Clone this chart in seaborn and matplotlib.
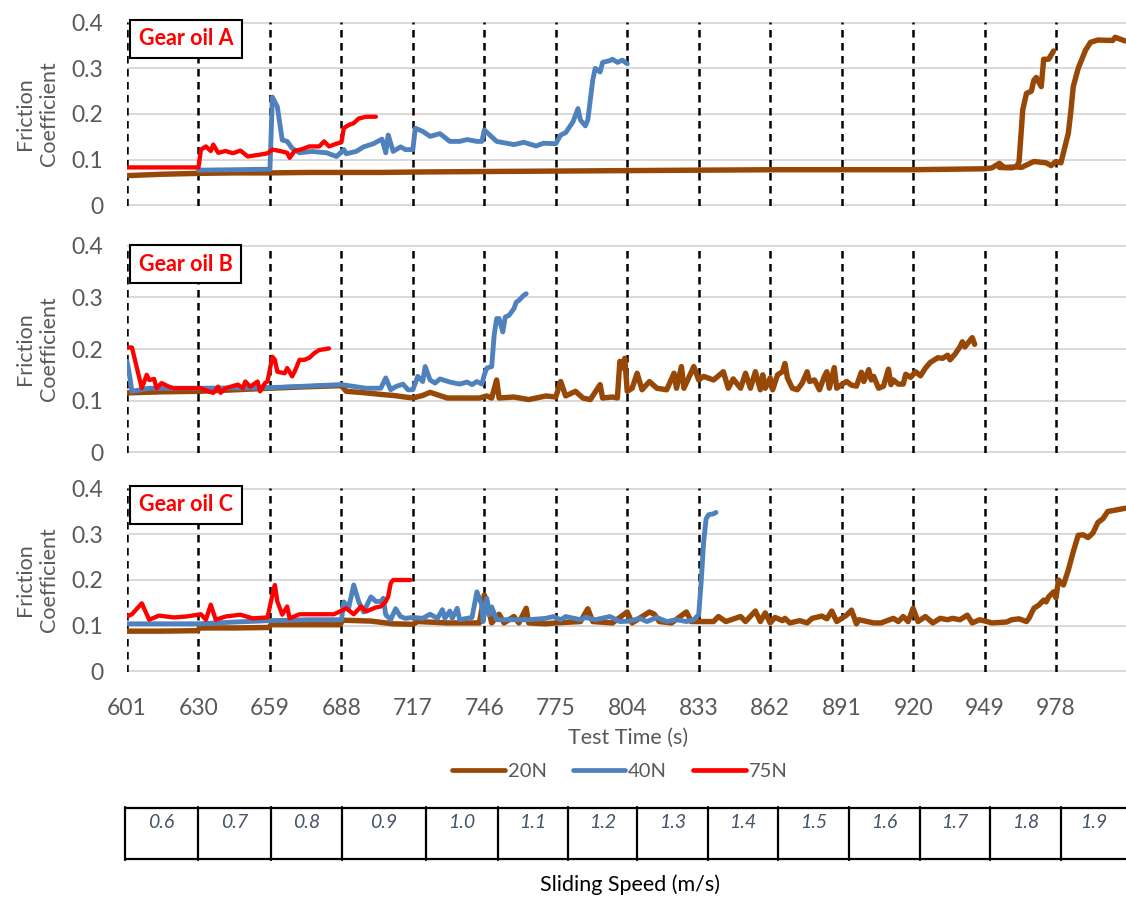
import matplotlib
matplotlib.use("Agg")
import matplotlib.pyplot as plt
from matplotlib.lines import Line2D
import seaborn as sns

# ---------------- data ----------------
tick_times = [601, 630, 659, 688, 717, 746, 775, 804, 833, 862, 891, 920, 949, 978]
tick_labels = [str(t) for t in tick_times]
y_ticks = [0, 0.1, 0.2, 0.3, 0.4]
y_tick_labels = ["0", "0.1", "0.2", "0.3", "0.4"]
loads = ["20N", "40N", "75N"]
oils = ["Gear oil A", "Gear oil B", "Gear oil C"]
speeds = [0.6, 0.7, 0.8, 0.9, 1.0, 1.1, 1.2, 1.3, 1.4, 1.5, 1.6, 1.7, 1.8, 1.9]

# Gear oil A
a20_t = [601, 615, 630, 645, 659, 675, 688, 704, 720, 746,
         775, 804, 833, 866, 891, 920, 949, 952, 955, 957,
         962, 964, 969, 974, 976, 978, 980, 981, 983, 984,
         985, 987, 990, 992, 995, 1001, 1002, 1006]
a20_v = [0.065, 0.068, 0.070, 0.071, 0.071, 0.072, 0.072, 0.072, 0.073, 0.074,
         0.075, 0.076, 0.077, 0.078, 0.078, 0.078, 0.080, 0.082, 0.092, 0.083,
         0.084, 0.083, 0.096, 0.093, 0.087, 0.096, 0.093, 0.115, 0.158, 0.205,
         0.260, 0.300, 0.340, 0.357, 0.362, 0.361, 0.368, 0.360]
a20b_t = [955, 960, 962, 963, 964.5, 966, 968, 969, 970, 972,
          973, 975, 977]
a20b_v = [0.083, 0.082, 0.085, 0.095, 0.209, 0.245, 0.250, 0.274, 0.280, 0.260,
          0.320, 0.320, 0.338]
a40_t = [630, 645, 659, 660, 662, 664, 666, 668, 671, 676,
         682, 686, 689, 690, 694, 697, 701, 704.5, 706, 707,
         709, 712, 714, 717, 718, 721, 724, 728, 732, 736,
         739, 743, 745, 746, 751, 758, 762, 767, 770, 775,
         777, 779, 782, 784, 785, 787, 788, 790, 791, 793,
         794, 797, 798, 800, 802, 804]
a40_v = [0.077, 0.078, 0.079, 0.237, 0.216, 0.143, 0.140, 0.125, 0.115, 0.118,
         0.115, 0.107, 0.122, 0.113, 0.118, 0.128, 0.135, 0.145, 0.115, 0.154,
         0.118, 0.128, 0.122, 0.122, 0.169, 0.162, 0.151, 0.157, 0.140, 0.140,
         0.144, 0.140, 0.140, 0.165, 0.140, 0.133, 0.138, 0.130, 0.136, 0.135,
         0.154, 0.159, 0.183, 0.212, 0.187, 0.174, 0.187, 0.274, 0.300, 0.292,
         0.313, 0.317, 0.320, 0.313, 0.318, 0.310]
a75_t = [601, 615, 630, 631, 633, 635, 636, 638, 641, 644,
         647, 650, 655, 658, 660, 663, 666, 667, 669, 672,
         675, 679, 681, 683, 686, 688, 689, 691, 693, 695,
         698, 702]
a75_v = [0.083, 0.083, 0.083, 0.122, 0.129, 0.119, 0.133, 0.115, 0.119, 0.114,
         0.120, 0.107, 0.111, 0.114, 0.122, 0.119, 0.115, 0.104, 0.119, 0.123,
         0.129, 0.129, 0.140, 0.129, 0.135, 0.138, 0.169, 0.176, 0.180, 0.190,
         0.194, 0.194]

# Gear oil B
b20_t = [601, 615, 630, 645, 659, 675, 688, 690, 698, 704,
         709, 717, 721, 724, 731, 744, 747, 749, 751, 752,
         758, 764, 771, 775, 777, 779, 783, 786, 789, 793,
         794, 798, 800, 801, 802, 803, 804, 806, 808, 810,
         813, 816, 820, 823, 824, 826, 827, 831, 833, 835,
         839, 843, 845, 847, 850, 852, 854, 856, 858, 859,
         860, 862, 863, 865, 867, 868, 869, 871, 873, 875,
         877, 878, 880, 882, 884, 885, 886, 888, 889, 891,
         893, 895, 897, 899, 900, 902, 903, 904, 906, 908,
         910, 911, 912, 914, 916, 917, 919, 921, 923, 925,
         927, 930, 932, 934, 935, 937, 939, 940, 941, 944,
         945]
b20_v = [0.115, 0.117, 0.118, 0.121, 0.124, 0.127, 0.129, 0.118, 0.115, 0.112,
         0.110, 0.105, 0.110, 0.116, 0.105, 0.105, 0.109, 0.105, 0.140, 0.105,
         0.107, 0.102, 0.109, 0.107, 0.137, 0.109, 0.118, 0.105, 0.102, 0.131,
         0.105, 0.107, 0.105, 0.176, 0.163, 0.182, 0.118, 0.124, 0.153, 0.121,
         0.137, 0.124, 0.121, 0.153, 0.124, 0.166, 0.124, 0.166, 0.140, 0.147,
         0.140, 0.156, 0.124, 0.142, 0.124, 0.153, 0.124, 0.156, 0.121, 0.150,
         0.124, 0.144, 0.121, 0.150, 0.156, 0.172, 0.144, 0.124, 0.121, 0.134,
         0.156, 0.137, 0.140, 0.121, 0.147, 0.156, 0.124, 0.164, 0.124, 0.131,
         0.137, 0.130, 0.128, 0.155, 0.137, 0.160, 0.140, 0.147, 0.124, 0.128,
         0.161, 0.131, 0.140, 0.132, 0.132, 0.151, 0.145, 0.156, 0.148, 0.163,
         0.174, 0.183, 0.182, 0.188, 0.179, 0.190, 0.204, 0.214, 0.204, 0.222,
         0.209]
b40_t = [601, 602, 603, 610, 630, 659, 688, 698, 704, 706,
         708, 710, 713, 715, 717, 719, 721, 722, 724, 726,
         728, 732, 736, 739, 741, 743, 745, 746, 747, 749,
         750, 751, 752, 753.5, 754.5, 756, 758, 759, 760, 762,
         763]
b40_v = [0.176, 0.150, 0.118, 0.124, 0.124, 0.125, 0.131, 0.124, 0.124, 0.144,
         0.121, 0.127, 0.132, 0.121, 0.121, 0.147, 0.137, 0.166, 0.140, 0.134,
         0.142, 0.136, 0.132, 0.136, 0.131, 0.137, 0.132, 0.150, 0.163, 0.166,
         0.227, 0.259, 0.259, 0.233, 0.262, 0.265, 0.278, 0.291, 0.294, 0.304,
         0.307]
b75_t = [601, 603, 607, 609, 610, 612, 613, 615, 618, 620,
         625, 631, 634, 636, 638, 639, 641, 646, 648, 649,
         651, 654, 655, 657, 658, 660, 661, 662, 665, 666,
         668, 669, 671, 673, 675, 677, 679, 683]
b75_v = [0.203, 0.203, 0.124, 0.150, 0.140, 0.142, 0.124, 0.134, 0.127, 0.124,
         0.124, 0.124, 0.118, 0.115, 0.127, 0.115, 0.124, 0.131, 0.124, 0.137,
         0.127, 0.137, 0.118, 0.134, 0.137, 0.185, 0.179, 0.156, 0.153, 0.163,
         0.147, 0.156, 0.179, 0.179, 0.183, 0.192, 0.198, 0.201]

# Gear oil C
c20_t = [601, 615, 629.5, 630.5, 645, 658.5, 659.5, 675, 687.5, 688.5,
         700, 709, 717, 719, 731, 744, 746, 747, 749, 752,
         754, 758, 760, 763, 764, 771, 775, 785, 788, 790,
         798, 804, 806, 813, 815, 817, 822, 828, 830, 833,
         839, 841, 844, 850, 852, 856, 858, 860, 862, 864,
         867, 868, 870, 874, 877, 879, 883, 885, 887, 889,
         891, 893, 895, 897, 898, 904, 907, 912, 914, 916,
         918, 920, 922, 925, 928, 931, 934, 936, 939, 942,
         944, 947, 950, 952, 958, 960, 963, 966, 967, 969,
         971, 973, 974, 975, 977, 978, 979, 981, 983, 985,
         987, 989, 991, 993, 995, 997, 999, 1001, 1004, 1006]
c20_v = [0.088, 0.088, 0.089, 0.095, 0.095, 0.096, 0.102, 0.102, 0.102, 0.112,
         0.110, 0.104, 0.103, 0.109, 0.106, 0.106, 0.167, 0.153, 0.106, 0.125,
         0.106, 0.120, 0.106, 0.138, 0.106, 0.104, 0.106, 0.109, 0.137, 0.109,
         0.106, 0.130, 0.106, 0.130, 0.125, 0.109, 0.106, 0.130, 0.109, 0.109,
         0.109, 0.120, 0.109, 0.120, 0.109, 0.132, 0.109, 0.128, 0.106, 0.118,
         0.111, 0.116, 0.106, 0.111, 0.106, 0.116, 0.121, 0.115, 0.132, 0.109,
         0.116, 0.123, 0.134, 0.104, 0.113, 0.106, 0.106, 0.116, 0.109, 0.120,
         0.109, 0.138, 0.109, 0.120, 0.106, 0.116, 0.113, 0.116, 0.113, 0.123,
         0.106, 0.113, 0.109, 0.106, 0.108, 0.113, 0.115, 0.109, 0.116, 0.138,
         0.145, 0.156, 0.152, 0.163, 0.174, 0.161, 0.200, 0.189, 0.222, 0.262,
         0.298, 0.299, 0.293, 0.303, 0.326, 0.334, 0.350, 0.352, 0.355, 0.357]
c40_t = [601, 615, 630, 645, 659, 675, 688, 689, 691, 693,
         695, 697, 700, 702, 704, 705, 706, 708, 710, 712,
         714, 717, 721, 724, 727, 729, 730, 732, 733, 735,
         736, 739, 741, 743, 745, 745.5, 747, 748, 749, 751,
         758, 764, 771, 774, 777, 779, 785, 787, 791, 797,
         801, 805, 809, 812, 816, 820, 824, 828, 831, 833,
         834, 835, 836, 837, 839, 840]
c40_v = [0.104, 0.104, 0.104, 0.108, 0.111, 0.113, 0.113, 0.152, 0.140, 0.189,
         0.153, 0.130, 0.163, 0.153, 0.153, 0.160, 0.124, 0.113, 0.137, 0.120,
         0.116, 0.118, 0.116, 0.125, 0.116, 0.135, 0.116, 0.132, 0.116, 0.138,
         0.113, 0.116, 0.118, 0.174, 0.145, 0.109, 0.160, 0.124, 0.141, 0.113,
         0.113, 0.113, 0.116, 0.120, 0.113, 0.120, 0.113, 0.118, 0.113, 0.120,
         0.109, 0.110, 0.116, 0.109, 0.118, 0.109, 0.113, 0.109, 0.113, 0.124,
         0.196, 0.283, 0.334, 0.343, 0.345, 0.348]
c75_t = [601, 603, 607, 610, 614, 620, 625, 631, 633, 635,
         637, 641, 647, 652, 658, 660, 661, 662, 664, 666,
         667, 671, 678, 685, 690, 693, 696, 698, 702, 704,
         706, 707, 708, 709, 713, 716]
c75_v = [0.120, 0.125, 0.149, 0.113, 0.122, 0.118, 0.120, 0.125, 0.113, 0.146,
         0.113, 0.120, 0.124, 0.116, 0.118, 0.167, 0.189, 0.153, 0.124, 0.142,
         0.116, 0.125, 0.125, 0.125, 0.138, 0.125, 0.142, 0.131, 0.140, 0.142,
         0.153, 0.164, 0.193, 0.200, 0.200, 0.200]

# ---------------- styling ----------------
colors = {"20N": "#974806", "40N": "#4F81BD", "75N": "#FF0000"}
widths = {"20N": 3.9, "40N": 3.5, "75N": 3.1}
GRAY = "#595959"

sns.set_theme(style="white")
plt.rcParams["font.family"] = ["Lato", "DejaVu Sans"]

W, H = 1126, 908
fig = plt.figure(figsize=(W / 100, H / 100), dpi=100)


def px_rect(left, top, right, bottom):
    return [left / W, 1 - bottom / H, (right - left) / W, (bottom - top) / H]


# panel frames in pixels: left, top(0.4), right, bottom(0)
panel_px = [(127, 22, 1126, 206), (127, 245, 1126, 453), (127, 488, 1126, 672)]
x_min, x_max = 601, 1006.4

panels = {
    "Gear oil A": [("20N", a20_t, a20_v), ("20N", a20b_t, a20b_v),
                   ("40N", a40_t, a40_v), ("75N", a75_t, a75_v)],
    "Gear oil B": [("20N", b20_t, b20_v), ("40N", b40_t, b40_v), ("75N", b75_t, b75_v)],
    "Gear oil C": [("20N", c20_t, c20_v), ("40N", c40_t, c40_v), ("75N", c75_t, c75_v)],
}

axes = []
for i, (oil, rect) in enumerate(zip(oils, panel_px)):
    ax = fig.add_axes(px_rect(*rect))
    axes.append(ax)
    # dashed time markers
    for t in tick_times:
        ax.axvline(t, ymin=0, ymax=1, color="black", lw=1.8,
                   ls=(0, (3.0, 2.2)), zorder=1)
    for load, t, v in panels[oil]:
        sns.lineplot(x=t, y=v, ax=ax, color=colors[load], lw=widths[load],
                     estimator=None, sort=False, legend=False, zorder=3,
                     solid_joinstyle="round", solid_capstyle="round")
    ax.set_xlim(x_min, x_max)
    ax.set_ylim(-0.0015, 0.4015)
    ax.set_yticks(y_ticks)
    ax.set_yticklabels(y_tick_labels)
    ax.set_xticks(tick_times)
    ax.grid(axis="y", color="#D9D9D9", lw=1.4, zorder=0)
    ax.grid(axis="x", visible=False)
    for s in ax.spines.values():
        s.set_visible(False)
    ax.tick_params(axis="y", length=0, pad=17, labelsize=16.5, labelcolor=GRAY)
    ax.tick_params(axis="x", length=0, pad=19, labelsize=16.5, labelcolor=GRAY,
                   labelbottom=(i == 2))
    if i == 2:
        ax.set_xticklabels(tick_labels)
    ax.set_xlabel("")
    ax.set_ylabel("")
    ax.text(-0.09, 0.5, "Friction\nCoefficient", transform=ax.transAxes,
            rotation=90, ha="center", va="center", ma="center",
            fontsize=15.5, color=GRAY, linespacing=1.25)
    ax.text(0.059, 0.908, oil, transform=ax.transAxes, ha="center", va="center",
            color="#FF0000", fontsize=15.5, fontweight="bold", zorder=6,
            bbox=dict(boxstyle="square,pad=0.4", fc="white", ec="black", lw=1.5))

fig.text(628 / W, 1 - 738 / H, "Test Time (s)", ha="center", va="center",
         fontsize=15.5, color=GRAY)

handles = [Line2D([0], [0], color=colors[l], lw=3.4, solid_capstyle="round") for l in loads]
fig.legend(handles, loads, loc="center", bbox_to_anchor=(620 / W, 1 - 771 / H),
           ncol=3, frameon=False, handlelength=2.6, handletextpad=0.15,
           columnspacing=1.3, fontsize=14.5, labelcolor=GRAY)

# sliding-speed strip
cell_edges = [125, 198, 271, 342, 426, 498, 568, 637, 708, 778, 849, 920, 990, 1061, 1126]
tax = fig.add_axes(px_rect(125, 807, 1126, 860))
tax.set_xlim(125, 1126)
tax.set_ylim(0, 1)
tax.axis("off")
tax.plot([125, 1126], [0.985, 0.985], color="black", lw=1.6, clip_on=False)
tax.plot([125, 1126], [0.015, 0.015], color="black", lw=1.6, clip_on=False)
for e in cell_edges[:-1]:
    tax.plot([e, e], [0, 1], color="black", lw=1.6, clip_on=False)
for s, l, r in zip(speeds, cell_edges[:-1], cell_edges[1:]):
    tax.text((l + r) / 2, 0.70, f"{s:.1f}", ha="center", va="center",
             fontsize=14, style="italic", color="#44546A")

fig.text(630 / W, 1 - 885 / H, "Sliding Speed (m/s)", ha="center", va="center",
         fontsize=15.5, color="black")

fig.savefig("out.png", dpi=100)
